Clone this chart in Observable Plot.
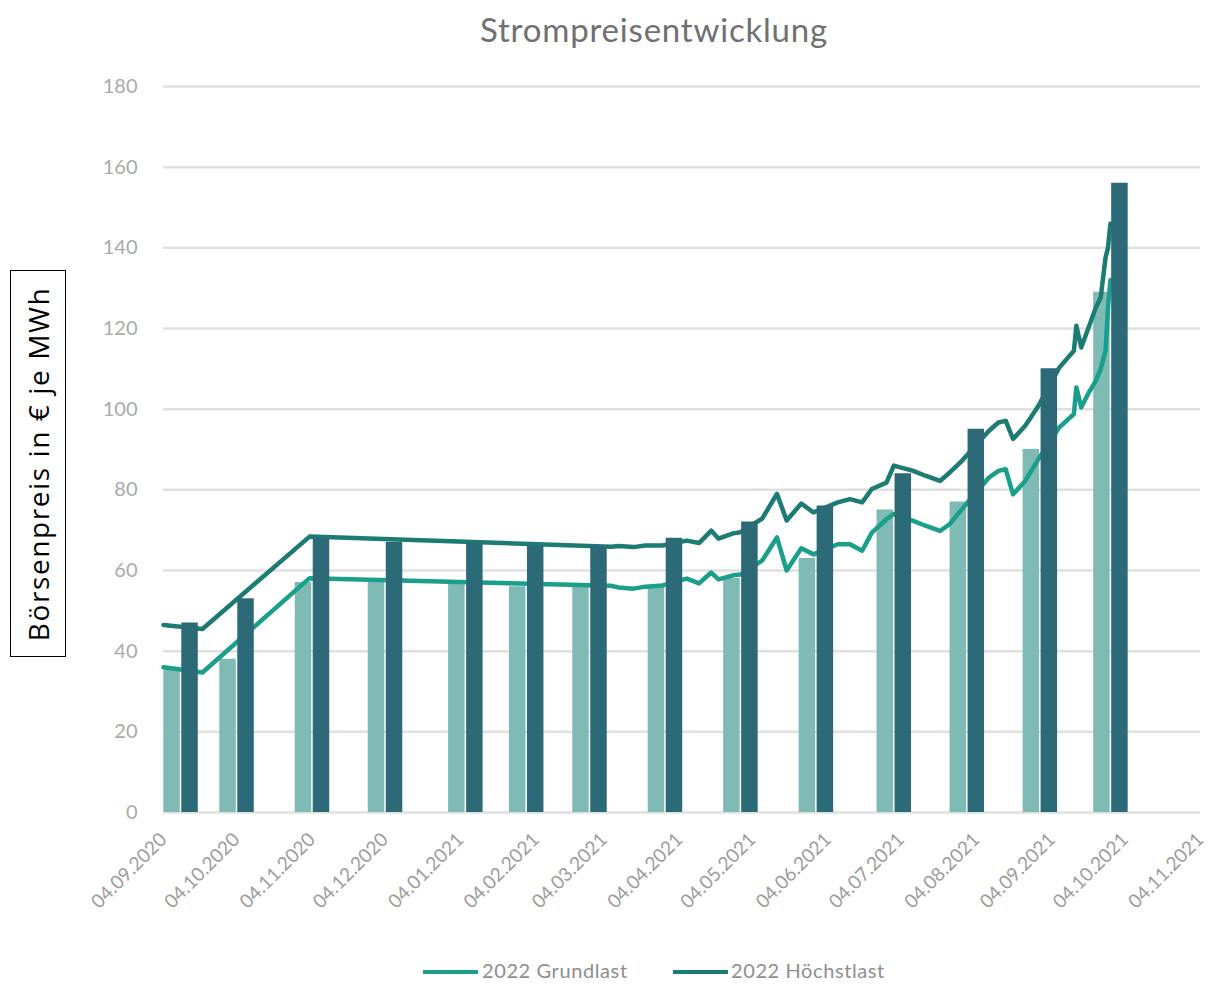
<!DOCTYPE html>
<html>
<head>
<meta charset="utf-8">
<script src="https://cdn.jsdelivr.net/npm/d3@7"></script>
<script src="https://cdn.jsdelivr.net/npm/@observablehq/plot@0.6"></script>
<style>
  body { margin: 0; background: #fff; }
  #wrap { position: relative; width: 1210px; height: 990px; overflow: hidden; font-family: Lato, "Open Sans", sans-serif; }
  #title { position: absolute; left: 0; width: 1308px; top: 9px; text-align: center; font-size: 33px; color: #707070; letter-spacing: 0.8px; }
  #chart { position: absolute; left: 0; top: 60px; }
  #ylab { position: absolute; left: 10px; top: 270px; width: 56px; height: 387px; border: 1.5px solid #000; box-sizing: border-box; }
  #ylab span { position: absolute; left: 50%; top: 50%; transform: translate(-50%, -50%) rotate(-90deg); white-space: nowrap; font-family: "Open Sans", sans-serif; font-size: 28px; letter-spacing: 1.6px; color: #000; }
  #legend { position: absolute; top: 958px; left: 0; width: 1210px; height: 28px; font-size: 20px; color: #8e8e8e; letter-spacing: 0.6px; }
  .sw { position: absolute; top: 12px; height: 4px; width: 55px; }
  .lt { position: absolute; top: 0; }
</style>
</head>
<body>
<div id="wrap">
  <div id="title">Strompreisentwicklung</div>
  <div id="chart"></div>
  <div id="ylab"><span>Börsenpreis in € je MWh</span></div>
  <div id="legend"></div>
</div>
<script>
// ---- data ----
const seriesNames = ["2022 Grundlast", "2022 Höchstlast"];
const xTickDates = ["2020-09-04","2020-10-04","2020-11-04","2020-12-04","2021-01-04","2021-02-04","2021-03-04","2021-04-04","2021-05-04","2021-06-04","2021-07-04","2021-08-04","2021-09-04","2021-10-04","2021-11-04"];
const yTicks = [0, 20, 40, 60, 80, 100, 120, 140, 160, 180];

const barDates = ["2020-09-11","2020-10-04","2020-11-04","2020-12-04","2021-01-06","2021-01-31","2021-02-26","2021-03-29","2021-04-29","2021-05-30","2021-07-01","2021-07-31","2021-08-30","2021-09-28"];
const grundBars = [36, 38, 57, 57, 57, 56, 56, 56, 58, 63, 75, 77, 90, 129];
const hoechstBars = [47, 53, 68, 67, 67, 66, 66, 68, 72, 76, 84, 95, 110, 156];

const lineDates = ["2020-09-04","2020-09-20","2020-11-03","2021-03-07","2021-03-10","2021-03-16","2021-03-21","2021-03-28","2021-04-07","2021-04-12","2021-04-17","2021-04-20","2021-04-26","2021-04-29","2021-05-08","2021-05-14","2021-05-18","2021-05-24","2021-05-29","2021-06-08","2021-06-13","2021-06-18","2021-06-22","2021-06-28","2021-07-01","2021-07-09","2021-07-14","2021-07-20","2021-07-24","2021-07-29","2021-08-09","2021-08-13","2021-08-16","2021-08-19","2021-08-24","2021-08-29","2021-09-07","2021-09-13","2021-09-14","2021-09-16","2021-09-19","2021-09-22","2021-09-24","2021-09-26","2021-09-27","2021-09-28"];
const grundLine = [36, 34.7, 58.1, 56.2, 55.8, 55.5, 56.0, 56.3, 58, 56.8, 59.5, 57.8, 58.8, 59, 62.5, 68.2, 60, 65.5, 64, 66.5, 66.5, 64.9, 69.4, 72.7, 74, 72.3, 71.1, 69.8, 71.5, 75.2, 83, 84.7, 85.1, 78.9, 82.2, 87.2, 95.5, 98.8, 105.4, 100.4, 104, 107, 110, 114.5, 125.2, 132];
const hoechstLine = [46.5, 45.5, 68.4, 65.9, 66.1, 65.8, 66.2, 66.2, 67.4, 66.8, 69.9, 67.9, 69.2, 69.5, 72.9, 79, 72.4, 76.6, 74.4, 76.9, 77.7, 76.9, 80.2, 81.8, 86, 84.7, 83.5, 82.2, 84.3, 87.2, 94.6, 96.7, 97.1, 92.6, 95.9, 100.4, 110.3, 114.5, 120.7, 115.3, 120.2, 125.2, 127.7, 137.6, 140, 146];

// ---- styles ----
const cLightBar = "#7fbab5";
const cDarkBar = "#2d6a78";
const cGrundLine = "#1a9f8b";
const cHoechstLine = "#1c7c74";

const parse = d3.utcParse("%Y-%m-%d");
const bars = barDates.map((d, i) => ({date: parse(d), g: grundBars[i], h: hoechstBars[i]}));
const linesG = lineDates.map((d, i) => ({date: parse(d), v: grundLine[i]}));
const linesH = lineDates.map((d, i) => ({date: parse(d), v: hoechstLine[i]}));
const ticks = xTickDates.map(parse);
const fmt = d3.utcFormat("%d.%m.%Y");

const plot = Plot.plot({
  width: 1210,
  height: 880,
  marginLeft: 163,
  marginRight: 10,
  marginTop: 26,
  marginBottom: 128,
  style: {fontFamily: "Lato, 'Open Sans', sans-serif", background: "transparent"},
  x: {type: "utc", domain: [ticks[0], ticks[ticks.length - 1]]},
  y: {domain: [0, 180]},
  marks: [
    Plot.gridY(yTicks, {stroke: "#e0e0e0", strokeOpacity: 1, strokeWidth: 2.5}),
    Plot.ruleX(bars, {x: "date", y1: 0, y2: "g", stroke: cLightBar, strokeWidth: 16.5, dx: -9}),
    Plot.line(linesG, {x: "date", y: "v", stroke: cGrundLine, strokeWidth: 4.5, strokeLinejoin: "round"}),
    Plot.line(linesH, {x: "date", y: "v", stroke: cHoechstLine, strokeWidth: 4.5, strokeLinejoin: "round"}),
    Plot.ruleX(bars, {x: "date", y1: 0, y2: "h", stroke: cDarkBar, strokeWidth: 16.5, dx: 9}),
    Plot.axisY(yTicks, {tickSize: 0, tickPadding: 26, fontSize: 20, fill: "#aaaaaa", label: null, style: {letterSpacing: "1px"}}),
    Plot.axisX(ticks, {tickSize: 0, tickPadding: 24, tickRotate: -45, tickFormat: fmt, fontSize: 19, fill: "#9c9c9c", label: null, style: {letterSpacing: "0.6px"}})
  ]
});
document.getElementById("chart").appendChild(plot);

// legend
const legend = document.getElementById("legend");
const legendItems = [
  {name: seriesNames[0], color: cGrundLine, sx: 423, tx: 482},
  {name: seriesNames[1], color: cHoechstLine, sx: 673, tx: 731}
];
for (const it of legendItems) {
  const sw = document.createElement("div");
  sw.className = "sw"; sw.style.left = it.sx + "px"; sw.style.background = it.color;
  legend.appendChild(sw);
  const t = document.createElement("div");
  t.className = "lt"; t.style.left = it.tx + "px"; t.textContent = it.name;
  legend.appendChild(t);
}
</script>
</body>
</html>
